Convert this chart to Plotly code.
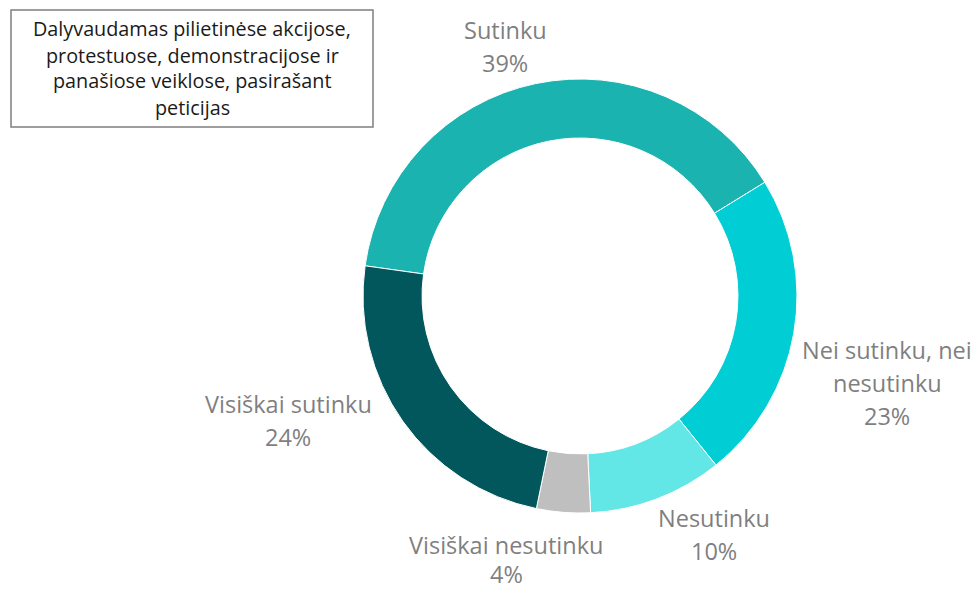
import plotly.graph_objects as go

# ---- data ----
categories = ["Sutinku", "Nei sutinku, nei nesutinku", "Nesutinku",
              "Visiškai nesutinku", "Visiškai sutinku"]
values = [39, 23, 10, 4, 24]
label_lines = [["Sutinku"], ["Nei sutinku, nei", "nesutinku"], ["Nesutinku"],
               ["Visiškai nesutinku"], ["Visiškai sutinku"]]
colors = ["#1BB3B0", "#00CED4", "#62E6E6", "#BFBFBF", "#02575C"]
title_lines = ["Dalyvaudamas pilietinėse akcijose,",
               "protestuose, demonstracijose ir",
               "panašiose veiklose, pasirašant",
               "peticijas"]

W, H = 978, 591
cx, cy, R = 580, 296, 217

# label anchor (center x, first line y, line spacing) in pixels
label_pos = [(505, 30, 33), (887, 350, 33), (714, 518, 33), (506, 545, 29), (288, 404, 33)]

fig = go.Figure(go.Pie(
    labels=categories, values=values, sort=False, direction="clockwise",
    rotation=278, hole=0.728, textinfo="none", hoverinfo="label+percent",
    marker=dict(colors=colors, line=dict(color="white", width=1)),
    domain=dict(x=[(cx - R) / W, (cx + R) / W],
                y=[(H - cy - R) / H, (H - cy + R) / H]),
    showlegend=False,
))

annotations = []
font_lbl = dict(family="Open Sans", size=23.5, color="#7F7F7F")
for lines, v, (px, py, lh) in zip(label_lines, values, label_pos):
    all_lines = lines + [f"{v}%"]
    for i, t in enumerate(all_lines):
        annotations.append(dict(
            text=t, x=px / W, y=1 - (py + i * lh) / H, xref="paper", yref="paper",
            xanchor="center", yanchor="middle", showarrow=False, font=font_lbl,
            borderpad=0))

font_title = dict(family="Open Sans", size=19.8, color="#1A1A1A")
for i, t in enumerate(title_lines):
    annotations.append(dict(
        text=t, x=192 / W, y=1 - (29 + i * 26) / H, xref="paper", yref="paper",
        xanchor="center", yanchor="middle", showarrow=False, font=font_title))

fig.update_layout(
    width=W, height=H, margin=dict(l=0, r=0, t=0, b=0),
    paper_bgcolor="white", plot_bgcolor="white",
    annotations=annotations,
    shapes=[dict(type="rect", xref="paper", yref="paper",
                 x0=11 / W, x1=373 / W, y0=1 - 127 / H, y1=1 - 10 / H,
                 line=dict(color="#7F7F7F", width=1.5), fillcolor="rgba(0,0,0,0)")],
)

fig.write_html("out.html", config={"displayModeBar": False},
               post_script="document.body.style.margin='0';document.body.style.overflow='hidden';")
